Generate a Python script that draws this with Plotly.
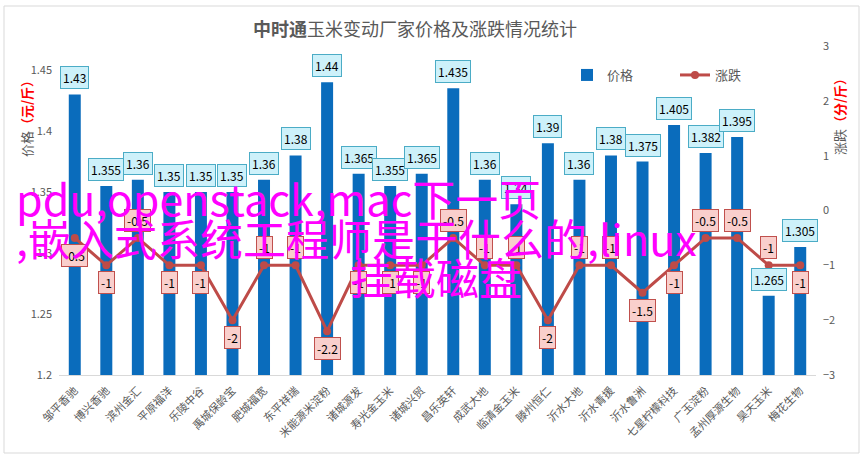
import plotly.graph_objects as go

categories = ["邹平香驰", "博兴香驰", "滨州金汇", "平原福洋", "乐陵中谷", "禹城保龄宝",
              "肥城福宽", "东平祥瑞", "米能源米淀粉", "诸城源发", "寿光金玉米", "诸城兴贸",
              "昌乐英轩", "成武大地", "临清金玉米", "滕州恒仁", "沂水大地", "沂水青援",
              "沂水鲁洲", "七星柠檬科技", "广玉淀粉", "孟州厚源生物", "昊天玉米", "梅花生物"]
prices = [1.43, 1.355, 1.36, 1.35, 1.35, 1.35, 1.36, 1.38, 1.44, 1.365, 1.355, 1.365,
          1.435, 1.36, 1.34, 1.39, 1.36, 1.38, 1.375, 1.405, 1.382, 1.395, 1.265, 1.305]
changes = [-0.5, -1, -0.5, -1, -1, -2, -1, -1, -2.2, -1, -1, -1,
           -0.5, -1, -1, -2, -1, -1, -1.5, -1, -0.5, -0.5, -1, -1]
# 1 = label above the point, -1 = below
change_label_side = [-1, -1, 1, -1, -1, -1, 1, 1, -1, -1, -1, -1,
                     1, 1, 1, -1, 1, 1, -1, -1, 1, 1, 1, -1]

W, H = 864, 458
L, R, T, B = 59, 48, 46, 83
pw, ph = W - L - R, H - T - B

def px(x):
    return (x - L) / pw

def py(y):
    return (H - B - y) / ph

fig = go.Figure()
fig.add_trace(go.Bar(x=categories, y=prices, name="价格", width=0.38,
                     marker=dict(color="#0A6CBC", line=dict(width=0)), yaxis="y"))
fig.add_trace(go.Scatter(x=categories, y=changes, name="涨跌", mode="lines+markers",
                         line=dict(color="#BE4B48", width=3),
                         marker=dict(color="#BE4B48", size=8), yaxis="y2"))

anns = []
for c, p in zip(categories, prices):
    anns.append(dict(x=c, y=p, xref="x", yref="y", text=str(p), showarrow=False,
                     yanchor="bottom", yshift=5, bgcolor="#CDF1FA", bordercolor="#4BACC6",
                     borderwidth=1, borderpad=2, font=dict(size=12, color="#000000")))
for c, v, s in zip(categories, changes, change_label_side):
    anns.append(dict(x=c, y=v, xref="x", yref="y2", text=str(v), showarrow=False,
                     yanchor="bottom" if s > 0 else "top", yshift=6 * s,
                     bgcolor="#F9CFCC", bordercolor="#C0504D",
                     borderwidth=1, borderpad=2, font=dict(size=12, color="#000000")))

anns.append(dict(x=px(15), y=py(72), xref="paper", yref="paper", textangle=-90,
                 text="价格<span style='color:#FF0000'><b>（元/斤）</b></span>",
                 showarrow=False, font=dict(size=13, color="#595959")))
anns.append(dict(x=px(851), y=py(70), xref="paper", yref="paper", textangle=-90,
                 text="涨跌<span style='color:#FF0000'><b>（分/斤）</b></span>",
                 showarrow=False, font=dict(size=13, color="#595959")))

overlay = [("pdu,openstack,mac下一页", 14, 197),
           (",嵌入式系统工程师是干什么的,linux", 14, 237),
           ("挂载磁盘", 348, 276)]
for t, x, y in overlay:
    anns.append(dict(x=px(x), y=py(y), xref="paper", yref="paper", text=t,
                     xanchor="left", yanchor="middle", showarrow=False,
                     font=dict(size=43, color="#FF00FF", family="Noto Sans CJK SC")))
fig.update_layout(annotations=anns)

fig.add_shape(type="rect", xref="paper", yref="paper", x0=px(4), x1=px(859),
              y0=py(453), y1=py(6), line=dict(color="#D9D9D9", width=1))

fig.update_layout(
    width=W, height=H,
    margin=dict(l=L, r=R, t=T, b=B, autoexpand=False),
    paper_bgcolor="white", plot_bgcolor="white",
    font=dict(family="Noto Sans CJK SC", color="#595959"),
    title=dict(text="<b>中时通</b>玉米变动厂家价格及涨跌情况统计", x=px(415), xanchor="center",
               xref="paper", yref="container", y=1 - 30 / H, yanchor="middle",
               font=dict(size=18, color="#595959")),
    showlegend=True,
    legend=dict(orientation="h", x=px(567), y=py(75), xanchor="left", yanchor="middle",
                entrywidth=63, font=dict(size=13, color="#595959"), bgcolor="rgba(0,0,0,0)"),
    xaxis=dict(range=[-0.5, len(categories) - 0.5], tickangle=-45,
               tickfont=dict(size=11, color="#595959"), showline=True, ticklabelstandoff=4,
               linecolor="#D9D9D9", ticks="", showgrid=False, automargin=False),
    yaxis=dict(range=[1.2, 1.4697], tickvals=[1.2, 1.25, 1.3, 1.35, 1.4, 1.45],
               ticktext=["1.2", "1.25", "1.3", "1.35", "1.4", "1.45"], showgrid=False,
               zeroline=False, tickfont=dict(size=11, color="#595959"), ticklabelstandoff=6,
               automargin=False),
    yaxis2=dict(range=[-3, 3], dtick=1, overlaying="y", side="right", showgrid=False,
                zeroline=False, tickfont=dict(size=11, color="#595959"), ticklabelstandoff=6,
                automargin=False),
)

fig.write_html("out.html", config={"displayModeBar": False},
               post_script="document.body.style.margin='0';")
